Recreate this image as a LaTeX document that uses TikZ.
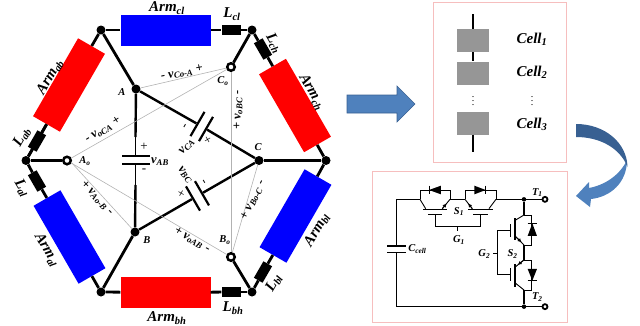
\documentclass[tikz,border=0pt]{standalone}
\usepackage{fontspec}
\setmainfont{Liberation Serif}
\usetikzlibrary{arrows.meta}
\definecolor{pinkbox}{RGB}{246,190,190}
\definecolor{cellgray}{RGB}{150,150,150}
\definecolor{arrowblue}{RGB}{79,129,189}
\definecolor{arrowdark}{RGB}{56,96,146}
\newcommand{\lsub}[1]{\textsubscript{#1}}
\begin{document}
\begin{tikzpicture}[x=1pt,y=-1pt,
dot/.style ={circle, fill=black, inner sep=0pt, minimum size=9pt},
term/.style ={circle, draw=black, line width=2.5pt, fill=white, inner sep=0pt, minimum size=7.5pt},
arm/.style ={rectangle, minimum width=90pt, minimum height=31pt, inner sep=0pt},
ind/.style ={rectangle, fill=black, minimum width=19pt, minimum height=10pt, inner sep=0pt},
plate/.style ={rectangle, fill=black, minimum width=28pt, minimum height=2.2pt, inner sep=0pt},
cell/.style ={rectangle, fill=cellgray, minimum width=32pt, minimum height=23pt, inner sep=0pt},
wire/.style ={line width=2.8pt},
side/.style ={line width=2.4pt},
sense/.style ={line width=0.6pt, gray!60},
big/.style ={font=\fontsize{15}{15}\selectfont\bfseries\itshape, inner sep=0pt},
mid/.style ={font=\fontsize{12.5}{13}\selectfont\bfseries\itshape, inner sep=0pt},
small/.style ={font=\fontsize{10.5}{11}\selectfont\bfseries\itshape, inner sep=0pt},
sign/.style ={font=\fontsize{13}{13}\selectfont, inner sep=0pt},
box/.style ={draw=pinkbox, line width=0.7pt},
thinw/.style ={line width=0.9pt},
medw/.style ={line width=1.6pt}
]
\useasboundingbox (0,0) rectangle (640,325);
% hexagon
\node (tl) at (101,30) [dot] {};
\node (tr) at (252,30) [dot] {};
\node (rt) at (326,160.5) [dot] {};
\node (br) at (252,292) [dot] {};
\node (bl) at (101,292) [dot] {};
\node (lf) at (26,160.5) [dot] {};
\node (A) at (136,89) [dot] {};
\node (B) at (135,232) [dot] {};
\node (C) at (259,160.5) [dot] {};
\node (Ao) at (67,160.5) [term] {};
\node (Co) at (231,67) [term] {};
\node (Bo) at (231,257) [term] {};
\node (armcl) at (165.5,30) [arm, fill=blue] {};
\node (armbh) at (165.5,292.5) [arm, fill=red] {};
\node (armab) at (69,85) [arm, fill=red, rotate=60] {};
\node (armal) at (69.5,237) [arm, fill=blue, rotate=-60] {};
\node (armch) at (295,105.5) [arm, fill=red, rotate=-60] {};
\node (armbl) at (295.5,216) [arm, fill=blue, rotate=60] {};
\node (Lcl) at (231,30) [ind] {};
\node (Lbh) at (231,292) [ind] {};
\node (Lab) at (37,141) [ind, rotate=60] {};
\node (Lal) at (37,181) [ind, rotate=-60] {};
\node (Lch) at (263,49) [ind, rotate=-60] {};
\node (Lbl) at (263,272) [ind, rotate=60] {};
\draw[wire] (tl) -- (armcl);
\draw[wire] (armcl) -- (Lcl);
\draw[wire] (Lcl) -- (tr);
\draw[wire] (tr) -- (Lch);
\draw[wire] (Lch) -- (armch);
\draw[wire] (armch) -- (rt);
\draw[wire] (rt) -- (armbl);
\draw[wire] (armbl) -- (Lbl);
\draw[wire] (Lbl) -- (br);
\draw[wire] (br) -- (Lbh);
\draw[wire] (Lbh) -- (armbh);
\draw[wire] (armbh) -- (bl);
\draw[wire] (bl) -- (armal);
\draw[wire] (armal) -- (Lal);
\draw[wire] (Lal) -- (lf);
\draw[wire] (lf) -- (armab);
\draw[wire] (Lab) -- (armab);
\draw[wire] (lf) -- (Lab);
\draw[wire] (tl) -- (armab);
\draw[wire] (lf) -- (Ao);
\draw[wire] (tr) -- (Co);
\draw[wire] (br) -- (Bo);
\draw[wire] (tl) -- (A);
\draw[wire] (bl) -- (B);
\draw[wire] (rt) -- (C);
% inner triangle
\node (pab1) at (135.5,156) [plate] {};
\node (pab2) at (135.5,164) [plate] {};
\node (pca1) at (197.5,124) [plate, rotate=60] {};
\node (pca2) at (206,129) [plate, rotate=60] {};
\node (pbc1) at (193,198.5) [plate, rotate=-60] {};
\node (pbc2) at (202,193.3) [plate, rotate=-60] {};
\coordinate (ab1) at (135.5,137);
\coordinate (ab2) at (135.5,185);
\draw[side] (A) -- (ab1);
\draw[line width=1.5pt] (ab1) -- (pab1);
\draw[line width=1.5pt] (pab2) -- (ab2);
\draw[side] (ab2) -- (B);
\draw[side] (A) -- (pca1);
\draw[side] (pca2) -- (C);
\draw[side] (B) -- (pbc1);
\draw[side] (pbc2) -- (C);
% sense lines
\draw[sense] (Ao) -- (Co);
\draw[sense] (Ao) -- (Bo);
\draw[sense] (Ao.-25) -- (B);
\draw[sense] (A) -- (Co);
\draw[sense] (Co) -- (Bo);
\draw[sense] (Bo) -- (C);
% labels
\node (t1) at (167,8) [big] {Arm\lsub{cl}};
\node (t2) at (167,318) [big] {Arm\lsub{bh}};
\node (t3) at (50,77) [big, rotate=60] {Arm\lsub{ab}};
\node (t4) at (47,250) [big, rotate=-60] {Arm\lsub{al}};
\node (t5) at (312,92) [big, rotate=-60] {Arm\lsub{ch}};
\node (t6) at (317,230) [big, rotate=60] {Arm\lsub{bl}};
\node (t7) at (232,14) [big] {L\lsub{cl}};
\node (t8) at (233,308) [big] {L\lsub{bh}};
\node (t9) at (22,137) [big, rotate=60] {L\lsub{ab}};
\node (t10) at (22,188) [big, rotate=-60] {L\lsub{al}};
\node (t11) at (274,43) [big, rotate=-60] {L\lsub{ch}};
\node (t12) at (274,283) [big, rotate=60] {L\lsub{bl}};
\node (t13) at (122,92) [small] {A};
\node (t14) at (147,240) [small] {B};
\node (t15) at (258,147) [small] {C};
\node (t16) at (85,161) [small] {A\lsub{o}};
\node (t17) at (223,81) [small] {C\lsub{o}};
\node (t18) at (225,240) [small] {B\lsub{o}};
\node (t19) at (182,73) [mid, rotate=11] {- v\lsub{Co-A} +};
\node (t20) at (103,130) [mid, rotate=32] {- v\lsub{oCA} +};
\node (t21) at (97,198) [mid, rotate=-47] {+ v\lsub{Ao-B} -};
\node (t22) at (192,240) [mid, rotate=-30] {+ v\lsub{oAB} -};
\node (t23) at (238,110) [mid, rotate=90] {+ v\lsub{oBC} -};
\node (t24) at (253,200) [mid, rotate=64] {+ v\lsub{Bo-C} -};
\node (t25) at (160,162) [mid] {v\lsub{AB}};
\node (t26) at (187,147) [mid, rotate=48] {v\lsub{CA}};
\node (t27) at (185,175) [mid, rotate=-50] {v\lsub{BC}};
\node (t28) at (144,147) [sign] {+};
\node (t29) at (144,171) [sign] {-};
\node (t30) at (208,140) [sign, rotate=30] {+};
\node (t31) at (186,127) [sign, rotate=60] {-};
\node (t32) at (181,194) [sign, rotate=-30] {+};
\node (t33) at (203,182) [sign, rotate=-60] {-};
% arrows
\draw[fill=arrowblue, draw=arrowdark, line width=0.6pt] (347,95) -- (397,95) -- (397,86) -- (415,104) -- (397,122) -- (397,113) -- (347,113) -- cycle;
\fill[arrowblue] (627,160) .. controls (620,175) and (605,185) .. (589,188) -- (589,182) -- (576,196) -- (590,207) -- (591,199) .. controls (610,197) and (627,183) .. (627,160) -- cycle;
\fill[arrowdark] (576,124) .. controls (605,124) and (627,143) .. (627.5,167) .. controls (620,148) and (600,137) .. (576,137) -- cycle;
% cell chain
\draw[box] (433,2) rectangle (566,162);
\node (c1) at (473,40.5) [cell] {};
\node (c2) at (473,73) [cell] {};
\node (c3) at (473,123) [cell] {};
\coordinate (ctop) at (473,14);
\coordinate (cbot) at (473,152);
\draw[wire] (ctop) -- (c1);
\draw[wire] (c1) -- (c2);
\draw[wire] (c3) -- (cbot);
\node (d1) at (473,98) [inner sep=0pt] {$\vdots$};
\node (d2) at (532,98) [inner sep=0pt] {$\vdots$};
\node (n1) at (532,39) [big] {Cell\lsub{1}};
\node (n2) at (532,72) [big] {Cell\lsub{2}};
\node (n3) at (532,124) [big] {Cell\lsub{3}};
% half bridge cell
\draw[box] (372,171) rectangle (567,322);
\begin{scope}[shift={(365,165)},x=0.3333pt,y=-0.3333pt]
\node (T1) at (540,103) [circle, draw=black, line width=1.8pt, fill=white, inner sep=0pt, minimum size=5pt] {};
\node (T2) at (540,425) [circle, draw=black, line width=1.8pt, fill=white, inner sep=0pt, minimum size=5pt] {};
\node (j1) at (477,103) [circle, fill=black, inner sep=0pt, minimum size=4.5pt] {};
\node (j2) at (477,425) [circle, fill=black, inner sep=0pt, minimum size=4.5pt] {};
\node (pc1) at (94,243) [rectangle, fill=black, minimum width=19pt, minimum height=1.5pt, inner sep=0pt] {};
\node (pc2) at (94,262) [rectangle, fill=black, minimum width=19pt, minimum height=1.5pt, inner sep=0pt] {};
\draw[medw] (pc1) -- (94,103) -- (165,103);
\draw[medw] (pc2) -- (94,425) -- (j2);
\draw[medw] (j2) -- (T2);
\draw[medw] (393,103) -- (j1);
\draw[medw] (j1) -- (T1);
\draw[medw] (255,103) -- (300,103);
% S1
\draw[thinw] (165,103) -- (165,75) -- (255,75) -- (255,103);
\draw[thinw] (300,103) -- (300,75) -- (393,75) -- (393,103);
\fill (192,75) -- (228,62) -- (228,88) -- cycle;
\fill (362,75) -- (328,62) -- (328,88) -- cycle;
\draw[thinw] (192,62) -- (192,88);
\draw[thinw] (362,62) -- (362,88);
\draw[thinw] (165,103) -- (182,131);
\draw[thinw] (255,103) -- (232,131);
\draw[thinw] (300,103) -- (322,131);
\draw[thinw] (393,103) -- (372,131);
\draw[thinw, -{Latex[length=4pt,width=4pt]}] (232,131) -- (245,115);
\draw[thinw, -{Latex[length=4pt,width=4pt]}] (322,131) -- (309,115);
\draw[medw] (175,133) -- (245,133);
\draw[medw] (310,133) -- (385,133);
\draw[medw] (190,148) -- (232,148);
\draw[medw] (325,148) -- (368,148);
\draw[thinw] (210,148) -- (210,183) -- (347,183) -- (347,148);
\draw[thinw] (278,183) -- (278,198);
% S2
\draw[medw] (j1) -- (477,150);
\draw[medw] (477,240) -- (477,285);
\draw[medw] (477,375) -- (j2);
\draw[thinw] (477,150) -- (500,150) -- (500,240) -- (477,240);
\draw[thinw] (477,285) -- (500,285) -- (500,375) -- (477,375);
\fill (502,175) -- (488,213) -- (516,213) -- cycle;
\fill (502,347) -- (488,312) -- (516,312) -- cycle;
\draw[thinw] (488,175) -- (516,175);
\draw[thinw] (488,347) -- (516,347);
\draw[thinw] (477,150) -- (452,165);
\draw[thinw] (452,215) -- (477,240);
\draw[thinw] (477,285) -- (452,305);
\draw[thinw] (452,355) -- (477,375);
\draw[thinw, -{Latex[length=4pt,width=4pt]}] (452,215) -- (470,232);
\draw[thinw, -{Latex[length=4pt,width=4pt]}] (477,285) -- (458,300);
\draw[medw] (450,160) -- (450,225);
\draw[medw] (450,297) -- (450,365);
\draw[medw] (436,178) -- (436,215);
\draw[medw] (436,310) -- (436,348);
\draw[thinw] (436,197) -- (398,197) -- (398,328) -- (436,328);
\draw[thinw] (385,265) -- (398,265);
\node (s1) at (282,140) [small] {S\lsub{1}};
\node (g1) at (282,225) [small] {G\lsub{1}};
\node (cc) at (157,253) [small] {C\lsub{cell}};
\node (tt1) at (517,83) [small] {T\lsub{1}};
\node (tt2) at (517,397) [small] {T\lsub{2}};
\node (g2) at (358,267) [small] {G\lsub{2}};
\node (s2) at (443,267) [small] {S\lsub{2}};
\end{scope}
\end{tikzpicture}
\end{document}
